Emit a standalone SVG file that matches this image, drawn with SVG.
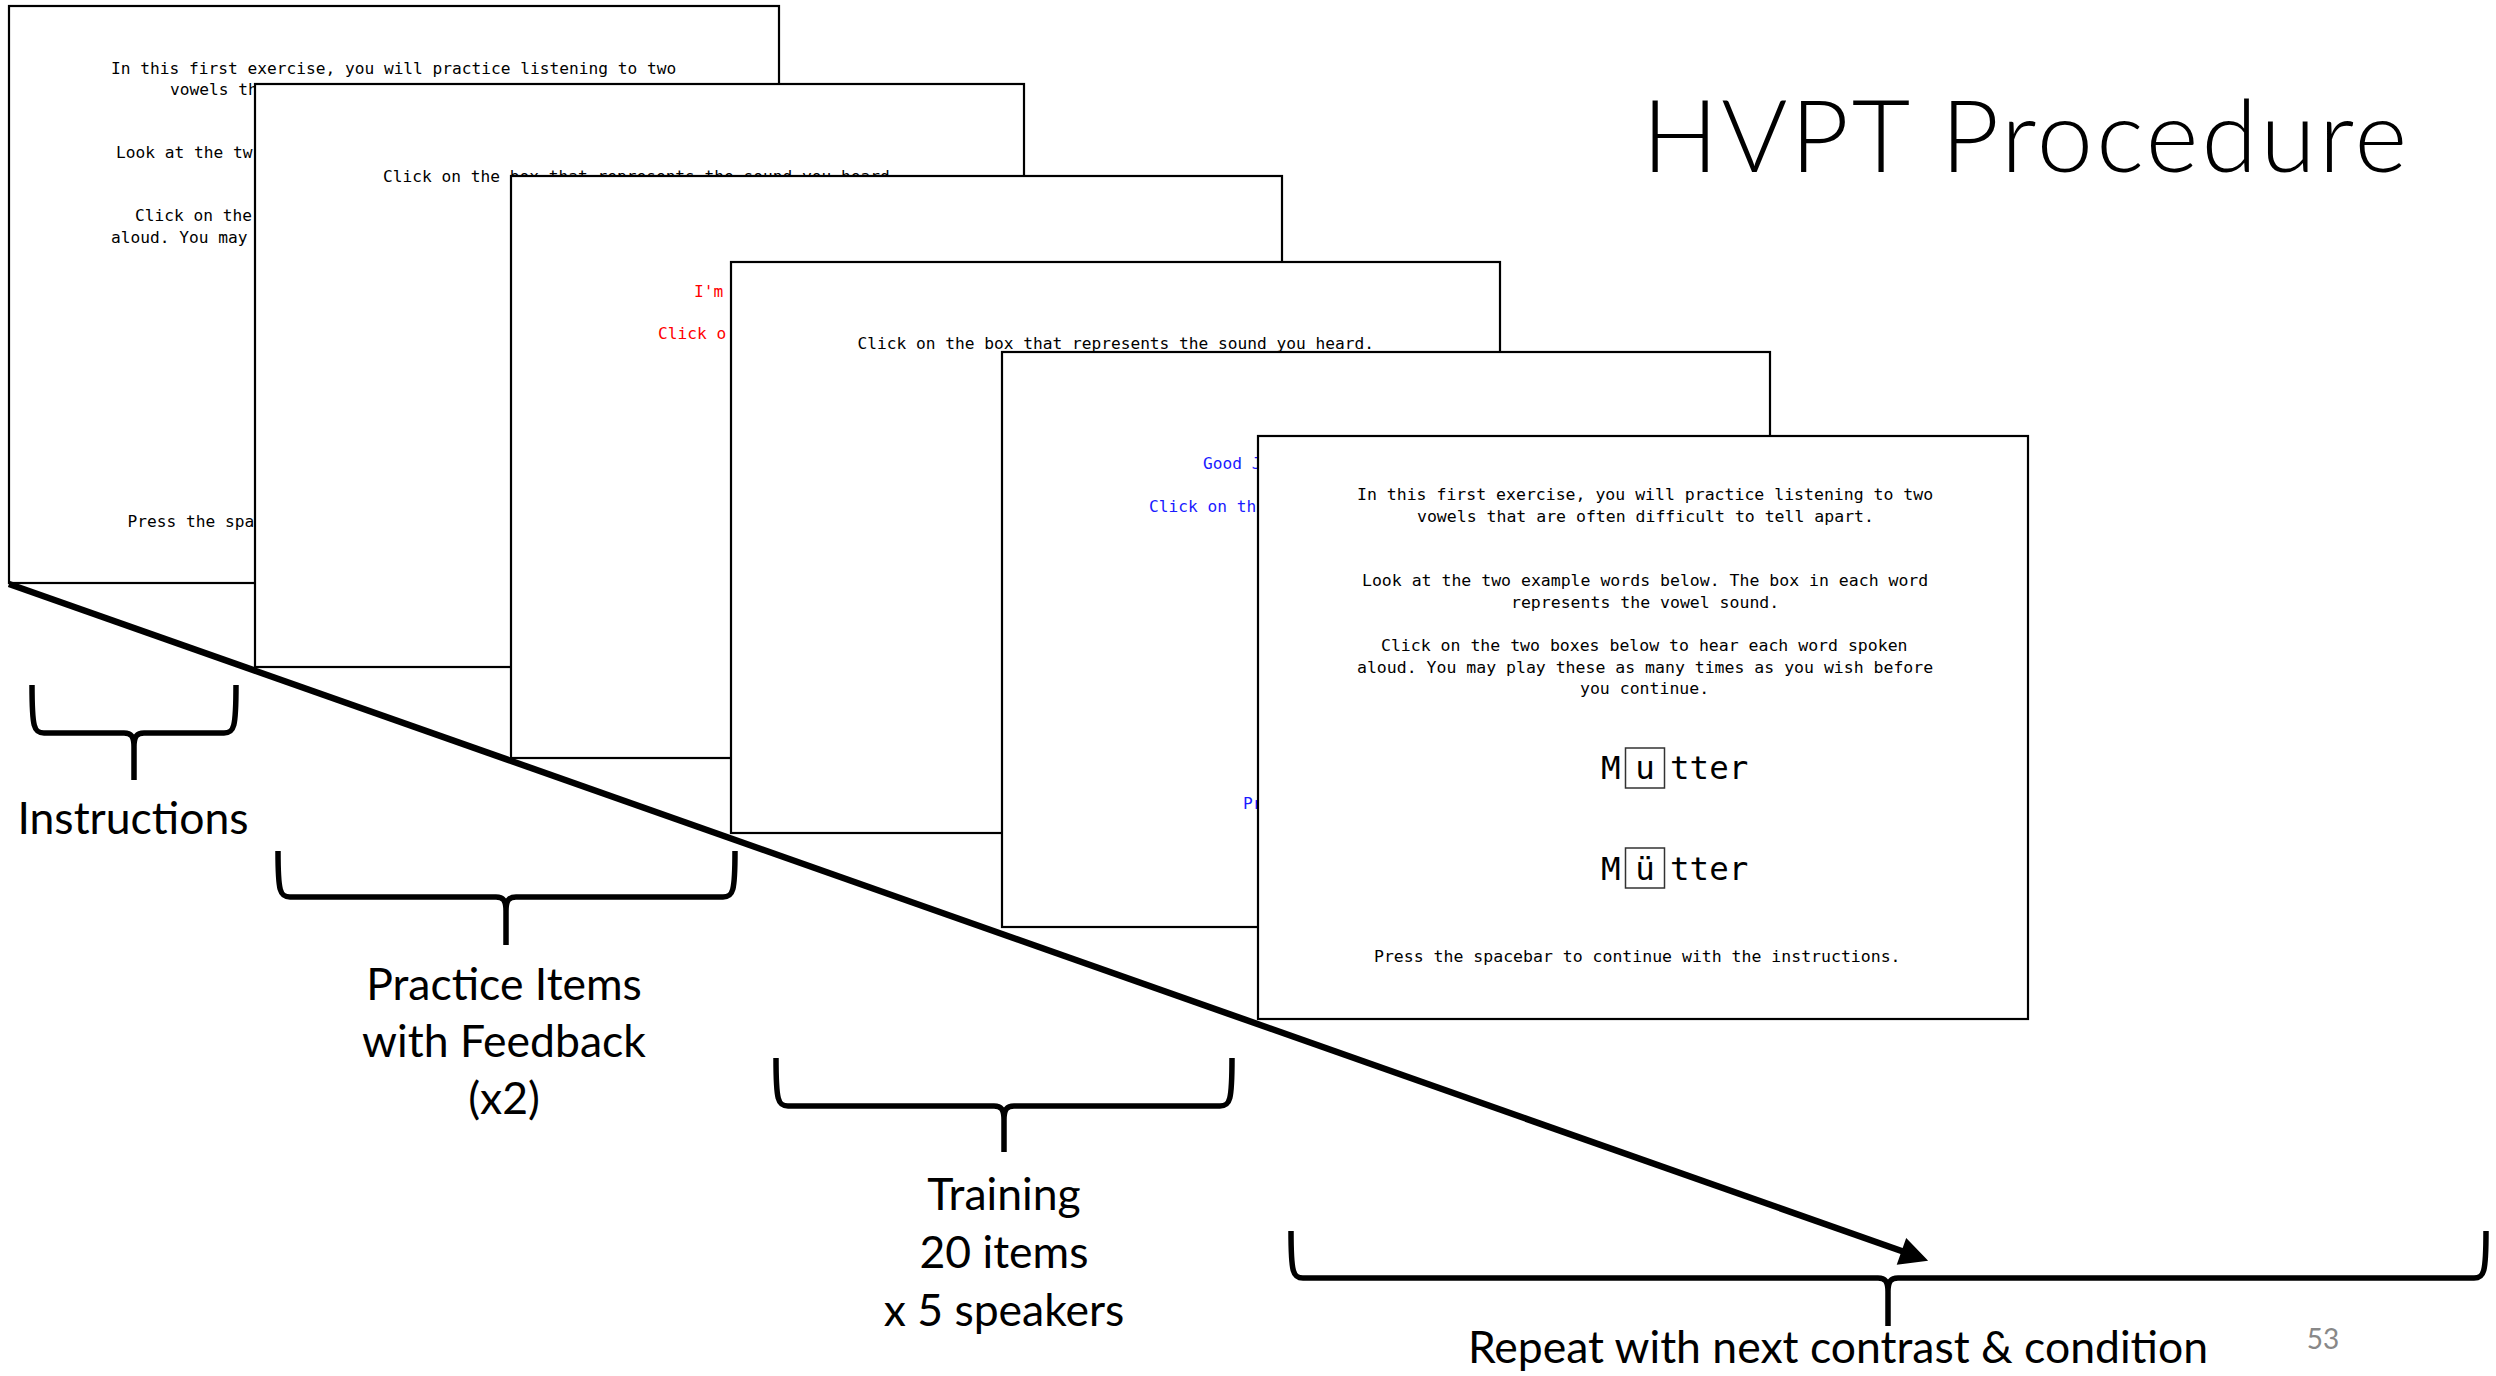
<svg xmlns="http://www.w3.org/2000/svg" width="2496" height="1376" viewBox="0 0 2496 1376">
<style>
.bg{fill:#fff}
.scr{fill:#fff;stroke:#000;stroke-width:2.2}
.mono{font-family:"DejaVu Sans Mono","Liberation Mono",monospace;font-size:16.2px;fill:#000}
.m6{font-size:16.5px}
.big{font-family:"DejaVu Sans Mono","Liberation Mono",monospace;font-size:32.5px;fill:#000}
.vbox{fill:none;stroke:#333;stroke-width:1.5}
.red{fill:#ff0000}
.blue{fill:#1a1aff}
.lbl{font-family:Lato,"Liberation Sans",sans-serif;font-size:44.5px;fill:#000;text-anchor:middle}
.title{font-family:Lato,"Liberation Sans",sans-serif;font-weight:300;font-size:101px;letter-spacing:3px;fill:#000}
.brace{fill:none;stroke:#000;stroke-width:5.5;stroke-linejoin:round;stroke-linecap:butt}
.arrow{fill:none;stroke:#000;stroke-width:6.5}
</style>
<rect class="bg" x="0" y="0" width="2496" height="1376"/>

<g id="screen1">
<rect class="scr" x="9" y="6" width="770" height="577"/>
<text class="mono" x="111" y="74">In this first exercise, you will practice listening to two</text>
<text class="mono" x="170" y="95">vowels th</text>
<text class="mono" x="116" y="158">Look at the tw</text>
<text class="mono" x="135" y="221">Click on the</text>
<text class="mono" x="111" y="243">aloud. You may</text>
<text class="mono" x="127.5" y="527">Press the spa</text>
</g>

<g id="screen2">
<rect class="scr" x="255" y="84" width="769" height="583"/>
<text class="mono" x="383" y="182">Click on the box that represents the sound you heard.</text>
</g>

<g id="screen3">
<rect class="scr" x="511" y="176" width="771" height="582"/>
<text class="mono red" x="694" y="297">I'm</text>
<text class="mono red" x="658" y="339">Click o</text>
</g>

<g id="screen4">
<rect class="scr" x="731" y="262" width="769" height="571"/>
<text class="mono" x="857.5" y="349">Click on the box that represents the sound you heard.</text>
</g>

<g id="screen5">
<rect class="scr" x="1002" y="352" width="768" height="575"/>
<text class="mono blue" x="1203" y="469">Good J</text>
<text class="mono blue" x="1149" y="512">Click on th</text>
<text class="mono blue" x="1243" y="809">Pr</text>
</g>

<g id="screen6">
<rect class="scr" x="1258" y="436" width="770" height="583"/>
<text class="mono m6" x="1357" y="500">In this first exercise, you will practice listening to two</text>
<text class="mono m6" x="1417" y="522">vowels that are often difficult to tell apart.</text>
<text class="mono m6" x="1362" y="586">Look at the two example words below. The box in each word</text>
<text class="mono m6" x="1511" y="608">represents the vowel sound.</text>
<text class="mono m6" x="1381" y="651">Click on the two boxes below to hear each word spoken</text>
<text class="mono m6" x="1357" y="673">aloud. You may play these as many times as you wish before</text>
<text class="mono m6" x="1580" y="694">you continue.</text>
<g id="word1">
<text class="big" x="1601" y="779">M</text>
<rect class="vbox" x="1625.5" y="748" width="39" height="40"/>
<text class="big" x="1645" y="779" text-anchor="middle">u</text>
<text class="big" x="1670" y="779">tter</text>
</g>
<g id="word2">
<text class="big" x="1601" y="880">M</text>
<rect class="vbox" x="1625.5" y="848" width="39" height="40"/>
<text class="big" x="1645" y="880" text-anchor="middle">ü</text>
<text class="big" x="1670" y="880">tter</text>
</g>
<text class="mono m6" x="1374" y="962">Press the spacebar to continue with the instructions.</text>
</g>

<g id="connectors">
<line class="arrow" x1="9" y1="584" x2="1903" y2="1251.5"/>
<polygon points="1926,1260 1906.6,1239.9 1898.2,1263.5" fill="#000" stroke="#000" stroke-width="2" stroke-linejoin="miter"/>
</g>

<g id="brace-instructions">
<path class="brace" d="M32,685 C32,728 34,733 44,733 L124,733 C131,733 134,736 134,747 L134,780 M236,685 C236,728 234,733 224,733 L144,733 C137,733 134,736 134,747"/>
<text class="lbl" x="133" y="834">Instructions</text>
</g>

<g id="brace-practice">
<path class="brace" d="M278,851 C278,892 280,897 290,897 L496,897 C503,897 506,900 506,911 L506,945 M735,851 C735,892 733,897 723,897 L516,897 C509,897 506,900 506,911"/>
<text class="lbl" x="504" y="1000">Practice Items</text>
<text class="lbl" x="504" y="1057">with Feedback</text>
<text class="lbl" x="504" y="1114">(x2)</text>
</g>

<g id="brace-training">
<path class="brace" d="M776,1058 C776,1101 778,1106 788,1106 L994,1106 C1001,1106 1004,1109 1004,1120 L1004,1152 M1232,1058 C1232,1101 1230,1106 1220,1106 L1014,1106 C1007,1106 1004,1109 1004,1120"/>
<text class="lbl" x="1004" y="1210">Training</text>
<text class="lbl" x="1004" y="1268">20 items</text>
<text class="lbl" x="1004" y="1326">x 5 speakers</text>
</g>

<g id="brace-repeat">
<path class="brace" d="M1291,1231 C1291,1273 1293,1278 1303,1278 L1878,1278 C1885,1278 1888,1281 1888,1292 L1888,1326 M2486,1231 C2486,1273 2484,1278 2474,1278 L1898,1278 C1891,1278 1888,1281 1888,1292"/>
<text class="lbl" x="1838" y="1363">Repeat with next contrast &amp; condition</text>
</g>

<g id="title">
<text class="title" x="1642" y="172">HVPT Procedure</text>
</g>

<g id="page-number">
<text x="2323" y="1349" text-anchor="middle" style="font-family:Lato,'Liberation Sans',sans-serif;font-size:28px;fill:#888">53</text>
</g>
</svg>
